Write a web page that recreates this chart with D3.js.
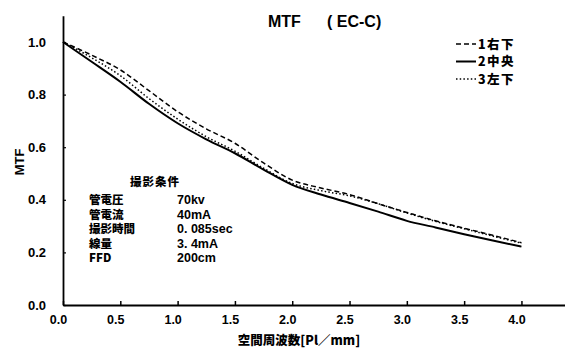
<!DOCTYPE html>
<html><head><meta charset="utf-8">
<script src="https://cdn.jsdelivr.net/npm/d3@7"></script>
<style>
html,body{margin:0;padding:0;background:#fff;}
svg{display:block;}
text{font-family:"Liberation Sans","Noto Sans CJK JP",Arial,sans-serif;font-weight:700;fill:#000;}
.jp{font-family:"Noto Sans CJK JP","Liberation Sans",sans-serif;font-weight:900;}
</style></head>
<body>
<script>
// ---- data ----
const freq = [0,0.25,0.5,0.75,1.0,1.25,1.5,1.75,2.0,2.25,2.5,2.75,3.0,3.25,3.5,3.75,4.0];
const mtfRightBottom = [1.0,0.95,0.894,0.815,0.735,0.67,0.615,0.54,0.475,0.445,0.42,0.385,0.352,0.32,0.292,0.265,0.237];
const mtfCenter      = [1.0,0.925,0.849,0.765,0.691,0.63,0.577,0.515,0.457,0.42,0.388,0.355,0.32,0.295,0.269,0.245,0.222];
const mtfLeftBottom  = [1.0,0.94,0.872,0.785,0.707,0.64,0.585,0.52,0.462,0.435,0.415,0.385,0.35,0.318,0.29,0.262,0.235];
const seriesNames = ["1右下","2中央","3左下"];
const xTicks = [0,0.5,1.0,1.5,2.0,2.5,3.0,3.5,4.0];
const yTicks = [0,0.2,0.4,0.6,0.8,1.0];
const condTitle = "撮影条件";
const condLabels = ["管電圧","管電流","撮影時間","線量","FFD"];
const condValues = ["70kv","40mA","0. 085sec","3. 4mA","200cm"];
const chartTitle = ["MTF","( EC-C)"];
const xTitle = "空間周波数[Pl／mm]";
const yTitle = "MTF";

// ---- layout ----
const W = 565, H = 348;
const svg = d3.select("body").append("svg").attr("width", W).attr("height", H);
const x = d3.scaleLinear().domain([0, 4.38]).range([63, 565]);
const y = d3.scaleLinear().domain([0, 1.1]).range([305, 15.7]);

// axes
const gx = svg.append("g").attr("transform", `translate(0,${y(0)})`)
  .call(d3.axisBottom(x).tickValues(xTicks).tickFormat(d3.format(".1f"))
    .tickSizeInner(-4).tickSizeOuter(0).tickPadding(10));
gx.select(".domain").attr("stroke-width", 1.8);
gx.selectAll(".tick line").attr("stroke-width", 1.5);
gx.selectAll(".tick text").attr("font-size", 12.5).attr("dx", -5);

const gy = svg.append("g").attr("transform", `translate(${x(0)},0)`)
  .call(d3.axisLeft(y).tickValues(yTicks).tickFormat(d3.format(".1f"))
    .tickSizeInner(-3).tickSizeOuter(0).tickPadding(17));
gy.select(".domain").attr("stroke-width", 1.8);
gy.selectAll(".tick line").attr("stroke-width", 1.2);
gy.selectAll(".tick text").attr("font-size", 13);
svg.selectAll(".tick text").style("font-family", '"Liberation Sans",Arial,sans-serif').style("font-weight", 700);

// lines
const series = [
  {name: seriesNames[0], vals: mtfRightBottom, dash: "5,3", w: 1.5},
  {name: seriesNames[1], vals: mtfCenter, dash: null, w: 2},
  {name: seriesNames[2], vals: mtfLeftBottom, dash: "1.5,2.2", w: 1.5}
];
const line = d3.line().x(d => x(d[0])).y(d => y(d[1])).curve(d3.curveMonotoneX);
series.forEach(s => {
  svg.append("path")
    .datum(freq.map((f, i) => [f, s.vals[i]]))
    .attr("d", line).attr("fill", "none").attr("stroke", "#000")
    .attr("stroke-width", s.w).attr("stroke-dasharray", s.dash);
});

// title
svg.append("text").attr("x", 268).attr("y", 27).attr("font-size", 16).text(chartTitle[0]);
svg.append("text").attr("x", 327).attr("y", 27).attr("font-size", 16).text(chartTitle[1]);

// legend
series.forEach((s, i) => {
  const cy = 44 + i * 17.5;
  svg.append("line").attr("x1", 456).attr("x2", 476).attr("y1", cy).attr("y2", cy)
    .attr("stroke", "#000").attr("stroke-width", s.w).attr("stroke-dasharray", s.dash);
  svg.append("text").attr("class", "jp").attr("x", 478).attr("y", cy + 4.5)
    .attr("font-size", 12.5).attr("letter-spacing", 1.5).text(s.name);
});

// conditions
svg.append("text").attr("class", "jp").attr("x", 155).attr("y", 186)
  .attr("text-anchor", "middle").attr("font-size", 11.5).attr("letter-spacing", 1).text(condTitle);
condLabels.forEach((l, i) => {
  const by = 204 + i * 14.5;
  svg.append("text").attr("class", "jp").attr("x", 89).attr("y", by).attr("font-size", 11.5).text(l);
  svg.append("text").attr("x", 177).attr("y", by).attr("font-size", 12.5).text(condValues[i]);
});

// axis titles
svg.append("text").attr("class", "jp").attr("x", 299).attr("y", 344.5)
  .attr("text-anchor", "middle").attr("font-size", 12.5).text(xTitle);
svg.append("text").attr("transform", "translate(24,162) rotate(-90)")
  .attr("text-anchor", "middle").attr("font-size", 13).text(yTitle);
</script>
</body></html>
